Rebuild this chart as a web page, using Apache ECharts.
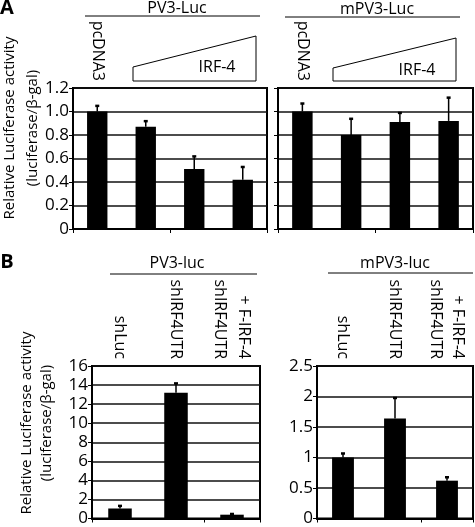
<!DOCTYPE html>
<html><head><meta charset="utf-8">
<script src="https://cdn.jsdelivr.net/npm/echarts@6/dist/echarts.min.js"></script>
<style>html,body{margin:0;padding:0;background:#fff}#c{width:475px;height:527px}</style>
</head><body><div id="c"></div>
<script>
// ---- Data ----
const catsA = ['pcDNA3', '', '', ''];
const pv3LucMean = [1.00, 0.87, 0.51, 0.42];
const pv3LucErr  = [0.05, 0.05, 0.11, 0.11];
const mpv3LucMean = [1.00, 0.80, 0.91, 0.92];
const mpv3LucErr  = [0.07, 0.14, 0.08, 0.20];

const catsB = ['shLuc', 'shIRF4UTR', 'shIRF4UTR\n+ F-IRF-4'];
const pv3lucMean = [1.05, 13.2, 0.40];
const pv3lucErr  = [0.30, 1.00, 0.10];
const mpv3lucMean = [1.00, 1.64, 0.62];
const mpv3lucErr  = [0.07, 0.34, 0.06];

const ticksA = [0, 0.2, 0.4, 0.6, 0.8, 1.0, 1.2];
const ticksBL = [0, 2, 4, 6, 8, 10, 12, 14, 16];
const ticksBR = [0, 0.5, 1, 1.5, 2, 2.5];

const FONT = 'Open Sans';
const chart = echarts.init(document.getElementById('c'), null, {renderer: 'canvas'});

const grids = [
  {left: 73, top: 88, width: 194, height: 141},
  {left: 278, top: 88, width: 195, height: 141},
  {left: 92, top: 366, width: 168, height: 155},
  {left: 317, top: 366, width: 156, height: 155}
];

const panels = [
  {cats: catsA, mean: pv3LucMean, err: pv3LucErr, ticks: ticksA, showLabels: true, fmt: v => v === 0 ? '0' : v.toFixed(1), lh: 22},
  {cats: catsA, mean: mpv3LucMean, err: mpv3LucErr, ticks: ticksA, showLabels: false, fmt: v => v === 0 ? '0' : v.toFixed(1), lh: 22},
  {cats: catsB, mean: pv3lucMean, err: pv3lucErr, ticks: ticksBL, showLabels: true, fmt: v => String(v), lh: 24},
  {cats: catsB, mean: mpv3lucMean, err: mpv3lucErr, ticks: ticksBR, showLabels: true, fmt: v => String(v), lh: 22}
];

const xAxis = [], yAxis = [], series = [];
panels.forEach((p, g) => {
  xAxis.push({
    type: 'category', gridIndex: g, data: p.cats, position: 'bottom',
    axisLine: {show: true, lineStyle: {color: '#000', width: 2}},
    axisTick: {show: true, length: 4, lineStyle: {color: '#000', width: 1}},
    axisLabel: {show: false}
  });
  xAxis.push({
    type: 'category', gridIndex: g, data: p.cats, position: 'top',
    axisLine: {show: false}, axisTick: {show: false},
    axisLabel: {show: true, rotate: 90, interval: 0, margin: 7, color: '#000',
      fontFamily: FONT, fontSize: 16, lineHeight: p.lh,
      // rotated multi-line labels are stacked right-to-left on the top axis; keep reading order
      formatter: v => v.split('\n').reverse().join('\n')}
  });
  const t = p.ticks;
  yAxis.push({
    type: 'value', gridIndex: g, min: t[0], max: t[t.length - 1], interval: t[1] - t[0],
    axisLine: {show: true, lineStyle: {color: '#000', width: 2}},
    axisTick: {show: true, length: 4, lineStyle: {color: '#000', width: 1}},
    axisLabel: {show: p.showLabels, margin: 4, color: '#000', fontFamily: FONT, fontSize: 17,
      formatter: p.fmt},
    splitLine: {show: true, lineStyle: {color: '#111', width: 1.5}}
  });
  series.push({
    type: 'bar', xAxisIndex: 2 * g, yAxisIndex: g, data: p.mean, barWidth: '42%',
    itemStyle: {color: '#000'}, silent: true, z: 2
  });
  series.push({
    type: 'custom', xAxisIndex: 2 * g, yAxisIndex: g, z: 3, silent: true,
    data: p.mean.map((m, i) => [i, m, p.err[i]]),
    encode: {x: 0, y: 1},
    renderItem: function (params, api) {
      const i = api.value(0), m = api.value(1), e = api.value(2);
      const base = api.coord([i, m]);
      const top = api.coord([i, m + e]);
      return {type: 'group', children: [
        {type: 'line', shape: {x1: base[0], y1: base[1], x2: base[0], y2: top[1]},
         style: {stroke: '#000', lineWidth: 1.5}},
        {type: 'rect', shape: {x: top[0] - 2, y: top[1] - 1, width: 4, height: 2.5},
         style: {fill: '#000'}}
      ]};
    }
  });
});

const txt = (x, y, text, opts = {}) => Object.assign({
  type: 'text', x: x, y: y,
  style: Object.assign({text: text, fill: '#000', font: '16px "' + FONT + '"', align: 'center', verticalAlign: 'middle'}, opts.style || {})
}, opts.el || {});

const graphic = [
  txt(7, 8, 'A', {style: {font: 'bold 20px "' + FONT + '"'}}),
  txt(7, 262, 'B', {style: {font: 'bold 20px "' + FONT + '"'}}),
  txt(177, 8, 'PV3-Luc'),
  txt(377, 9, 'mPV3-Luc'),
  {type: 'line', shape: {x1: 85, y1: 16, x2: 260, y2: 16}, style: {stroke: '#000', lineWidth: 1}},
  {type: 'line', shape: {x1: 285, y1: 17, x2: 460, y2: 17}, style: {stroke: '#000', lineWidth: 1}},
  {type: 'polygon', shape: {points: [[133, 81], [133, 67], [256, 36], [256, 81]]}, style: {fill: 'none', stroke: '#000', lineWidth: 1}},
  {type: 'polygon', shape: {points: [[333, 81], [333, 68], [456, 38], [456, 81]]}, style: {fill: 'none', stroke: '#000', lineWidth: 1}},
  txt(217, 67, 'IRF-4'),
  txt(417, 70, 'IRF-4'),
  txt(177, 263, 'PV3-luc'),
  txt(395, 263, 'mPV3-luc'),
  {type: 'line', shape: {x1: 110, y1: 274, x2: 257, y2: 274}, style: {stroke: '#000', lineWidth: 1}},
  {type: 'line', shape: {x1: 328, y1: 273, x2: 473, y2: 273}, style: {stroke: '#000', lineWidth: 1}},
  txt(21, 128, 'Relative Luciferase activity\n(luciferase/β-gal)', {el: {rotation: Math.PI / 2}, style: {font: '15px "' + FONT + '"', lineHeight: 23}}),
  txt(37, 423, 'Relative Luciferase activity\n(luciferase/β-gal)', {el: {rotation: Math.PI / 2}, style: {font: '15px "' + FONT + '"', lineHeight: 20}})
];

chart.setOption({
  animation: false,
  grid: grids.map(g => Object.assign({show: true, borderColor: '#000', borderWidth: 2, backgroundColor: 'transparent', containLabel: false}, g)),
  xAxis: xAxis,
  yAxis: yAxis,
  series: series,
  graphic: graphic
});
</script></body></html>
